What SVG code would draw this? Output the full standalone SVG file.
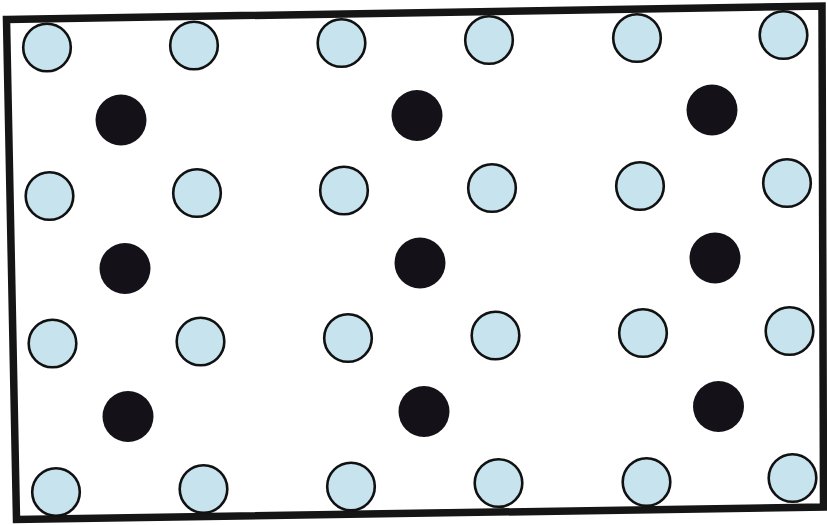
<svg xmlns="http://www.w3.org/2000/svg" width="827" height="525" viewBox="0 0 827 525">
<style>
.l{fill:#c6e3ee;stroke:#111;stroke-width:2.6}
.d{fill:#141218}
.frame{fill:none;stroke:#151515;stroke-width:7.5;stroke-linejoin:miter}
</style>
<rect width="827" height="525" fill="#fff"/>
<polygon class="frame" points="6.5,19.5 822,6 823.5,507 16.5,519.5"/>
<g id="light-row1">
<circle class="l" cx="47" cy="47.5" r="23.8"/>
<circle class="l" cx="194" cy="45.5" r="23.8"/>
<circle class="l" cx="341.5" cy="43" r="23.8"/>
<circle class="l" cx="489" cy="40" r="23.8"/>
<circle class="l" cx="637" cy="38" r="23.8"/>
<circle class="l" cx="783.5" cy="35" r="23.8"/>
</g>
<g id="dark-row1">
<circle class="d" cx="121" cy="120" r="25.5"/>
<circle class="d" cx="417" cy="115.5" r="25.5"/>
<circle class="d" cx="712" cy="110" r="25.5"/>
</g>
<g id="light-row2">
<circle class="l" cx="49.5" cy="196" r="23.8"/>
<circle class="l" cx="197" cy="193" r="23.8"/>
<circle class="l" cx="344" cy="190.5" r="23.8"/>
<circle class="l" cx="492" cy="188" r="23.8"/>
<circle class="l" cx="640" cy="186" r="23.8"/>
<circle class="l" cx="787" cy="183" r="23.8"/>
</g>
<g id="dark-row2">
<circle class="d" cx="125" cy="268.5" r="25.5"/>
<circle class="d" cx="420" cy="263" r="25.5"/>
<circle class="d" cx="715" cy="258" r="25.5"/>
</g>
<g id="light-row3">
<circle class="l" cx="52.5" cy="343.5" r="23.8"/>
<circle class="l" cx="200.5" cy="341.5" r="23.8"/>
<circle class="l" cx="348" cy="338" r="23.8"/>
<circle class="l" cx="495.5" cy="335.5" r="23.8"/>
<circle class="l" cx="643" cy="333" r="23.8"/>
<circle class="l" cx="789.5" cy="331" r="23.8"/>
</g>
<g id="dark-row3">
<circle class="d" cx="128" cy="416.5" r="25.5"/>
<circle class="d" cx="424" cy="411.5" r="25.5"/>
<circle class="d" cx="718.5" cy="406.5" r="25.5"/>
</g>
<g id="light-row4">
<circle class="l" cx="56" cy="492" r="23.8"/>
<circle class="l" cx="203.5" cy="489" r="23.8"/>
<circle class="l" cx="351" cy="486.5" r="23.8"/>
<circle class="l" cx="498.5" cy="483" r="23.8"/>
<circle class="l" cx="646.5" cy="482" r="23.8"/>
<circle class="l" cx="792.5" cy="478" r="23.8"/>
</g>
</svg>
